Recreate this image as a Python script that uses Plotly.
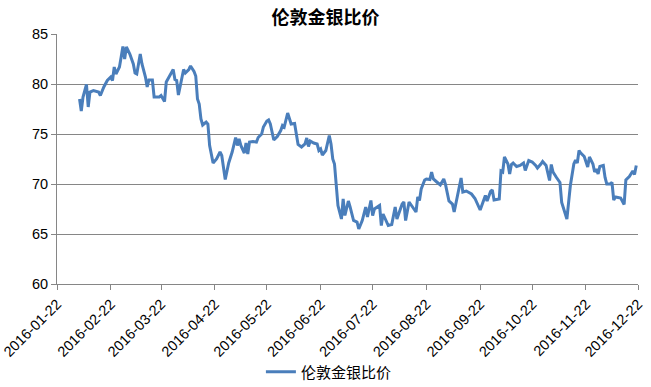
import plotly.graph_objects as go

series_name = "伦敦金银比价"

dates = [
    "2016-02-04", "2016-02-05", "2016-02-06", "2016-02-07", "2016-02-08", "2016-02-09", "2016-02-10",
    "2016-02-12", "2016-02-13", "2016-02-15", "2016-02-16", "2016-02-18", "2016-02-20", "2016-02-22",
    "2016-02-23", "2016-02-24", "2016-02-25", "2016-02-27", "2016-02-28", "2016-02-29", "2016-03-01",
    "2016-03-02", "2016-03-04", "2016-03-06", "2016-03-07", "2016-03-08", "2016-03-10", "2016-03-11",
    "2016-03-13", "2016-03-14", "2016-03-15", "2016-03-17", "2016-03-18", "2016-03-21", "2016-03-22",
    "2016-03-24", "2016-03-25", "2016-03-28", "2016-03-29", "2016-03-30", "2016-03-31", "2016-04-01",
    "2016-04-03", "2016-04-04", "2016-04-05", "2016-04-07", "2016-04-08", "2016-04-10", "2016-04-11",
    "2016-04-12", "2016-04-13", "2016-04-14", "2016-04-15", "2016-04-17", "2016-04-18", "2016-04-19",
    "2016-04-21", "2016-04-23", "2016-04-25", "2016-04-26", "2016-04-28", "2016-04-30", "2016-05-02",
    "2016-05-03", "2016-05-04", "2016-05-05", "2016-05-06", "2016-05-07", "2016-05-09", "2016-05-10",
    "2016-05-11", "2016-05-12", "2016-05-14", "2016-05-16", "2016-05-17", "2016-05-19", "2016-05-20",
    "2016-05-22", "2016-05-23", "2016-05-24", "2016-05-26", "2016-05-28", "2016-05-30", "2016-05-31",
    "2016-06-01", "2016-06-03", "2016-06-04", "2016-06-05", "2016-06-07", "2016-06-08", "2016-06-09",
    "2016-06-11", "2016-06-13", "2016-06-14", "2016-06-15", "2016-06-16", "2016-06-18", "2016-06-20",
    "2016-06-21", "2016-06-22", "2016-06-23", "2016-06-25", "2016-06-27", "2016-06-28", "2016-06-29",
    "2016-06-30", "2016-07-01", "2016-07-02", "2016-07-04", "2016-07-05", "2016-07-06", "2016-07-08",
    "2016-07-09", "2016-07-11", "2016-07-13", "2016-07-14", "2016-07-16", "2016-07-18", "2016-07-19",
    "2016-07-21", "2016-07-22", "2016-07-23", "2016-07-26", "2016-07-27", "2016-07-28", "2016-07-31",
    "2016-08-02", "2016-08-04", "2016-08-05", "2016-08-08", "2016-08-09", "2016-08-10", "2016-08-12",
    "2016-08-15", "2016-08-16", "2016-08-17", "2016-08-18", "2016-08-19", "2016-08-21", "2016-08-22",
    "2016-08-24", "2016-08-25", "2016-08-26", "2016-08-28", "2016-08-30", "2016-09-01", "2016-09-02",
    "2016-09-04", "2016-09-06", "2016-09-07", "2016-09-09", "2016-09-11", "2016-09-12", "2016-09-14",
    "2016-09-17", "2016-09-19", "2016-09-22", "2016-09-24", "2016-09-25", "2016-09-26", "2016-09-28",
    "2016-09-29", "2016-09-30", "2016-10-03", "2016-10-04", "2016-10-05", "2016-10-06", "2016-10-08",
    "2016-10-09", "2016-10-10", "2016-10-11", "2016-10-13", "2016-10-15", "2016-10-17", "2016-10-18",
    "2016-10-20", "2016-10-22", "2016-10-24", "2016-10-25", "2016-10-27", "2016-10-28", "2016-10-30",
    "2016-10-31", "2016-11-01", "2016-11-02", "2016-11-03", "2016-11-05", "2016-11-07", "2016-11-08",
    "2016-11-10", "2016-11-11", "2016-11-13", "2016-11-15", "2016-11-16", "2016-11-17", "2016-11-18",
    "2016-11-19", "2016-11-21", "2016-11-23", "2016-11-24", "2016-11-26", "2016-11-27", "2016-11-28",
    "2016-11-29", "2016-11-30", "2016-12-02", "2016-12-03", "2016-12-04", "2016-12-06", "2016-12-07",
    "2016-12-08", "2016-12-09", "2016-12-12", "2016-12-14", "2016-12-15", "2016-12-17", "2016-12-19",
    "2016-12-20", "2016-12-21",
]

ratio = [
    78.5, 77.3, 78.7, 79.4, 79.95, 77.7, 79.2,
    79.35, 79.3, 79.2, 78.85, 79.7, 80.35, 80.7,
    80.35, 81.7, 81.0, 81.7, 82.7, 83.75, 82.5,
    83.7, 83.0, 82.0, 81.1, 81.0, 83.0, 82.0,
    80.7, 79.7, 80.4, 80.4, 78.7, 78.7, 78.85,
    78.25, 80.2, 81.2, 81.45, 80.45, 80.35, 78.9,
    80.5, 81.45, 81.1, 81.45, 81.8, 81.25, 80.8,
    78.5, 78.0, 76.5, 75.9, 76.2, 76.0, 73.85,
    72.1, 72.5, 73.2, 72.85, 70.45, 72.1, 73.2,
    74.1, 74.65, 73.85, 74.5, 73.85, 73.1, 74.1,
    73.0, 74.2, 74.25, 74.2, 74.65, 75.0, 75.7,
    76.3, 76.4, 76.0, 74.4, 74.75, 75.35, 75.85,
    75.7, 77.1, 76.5, 76.0, 76.05, 75.0, 73.95,
    73.7, 74.0, 74.6, 73.75, 74.3, 74.1, 74.0,
    73.35, 73.5, 72.9, 73.35, 74.85, 74.0, 72.5,
    72.0, 69.7, 67.85, 66.5, 68.5, 66.85, 68.3,
    67.7, 66.35, 66.2, 65.5, 66.35, 67.7, 66.7,
    68.35, 66.85, 67.5, 67.85, 65.85, 67.0, 65.85,
    65.95, 67.7, 66.5, 68.0, 68.2, 66.35, 68.2,
    67.35, 67.2, 68.7, 68.35, 69.5, 70.4, 70.5,
    70.45, 71.2, 70.5, 70.2, 69.9, 70.5, 69.95,
    68.3, 68.0, 67.2, 69.0, 70.6, 69.2, 69.3,
    69.0, 68.55, 67.4, 68.3, 68.85, 68.3, 69.25,
    69.4, 68.4, 68.5, 71.3, 71.2, 72.7, 72.0,
    71.0, 71.95, 72.1, 71.75, 71.85, 72.1, 71.35,
    72.35, 72.2, 71.85, 71.6, 72.0, 72.25, 71.85,
    71.2, 70.35, 71.95, 71.2, 70.65, 70.15, 68.15,
    67.15, 66.5, 69.85, 72.0, 72.4, 72.1, 73.35,
    73.1, 72.75, 71.7, 72.7, 72.0, 71.2, 71.5,
    71.0, 71.75, 71.85, 70.65, 70.0, 70.0, 70.15,
    68.4, 68.7, 68.6, 67.95, 70.4, 70.75, 71.3,
    70.95, 71.85,
]

tick_dates = [
    "2016-01-22", "2016-02-22", "2016-03-22", "2016-04-22", "2016-05-22", "2016-06-22",
    "2016-07-22", "2016-08-22", "2016-09-22", "2016-10-22", "2016-11-22", "2016-12-22",
]

y_ticks = [60, 65, 70, 75, 80, 85]

fig = go.Figure(
    go.Scatter(
        x=dates,
        y=ratio,
        mode="lines",
        name=series_name,
        line=dict(color="#4A7EBB", width=3),
    )
)

fig.update_layout(
    width=651,
    height=387,
    autosize=False,
    margin=dict(l=57, r=13, t=34, b=103, autoexpand=False),
    paper_bgcolor="white",
    plot_bgcolor="white",
    font=dict(family="Liberation Sans, Arial, sans-serif", size=14.5, color="black"),
    title=dict(
        text="<b>" + series_name + "</b>",
        x=0.5,
        xanchor="center",
        xref="container",
        y=1 - 18 / 387,
        yanchor="middle",
        yref="container",
        font=dict(family="Noto Sans CJK SC", size=18, color="black"),
    ),
    showlegend=True,
    legend=dict(
        orientation="h",
        x=0.468,
        xanchor="center",
        y=1 - 372 / 387,
        yanchor="middle",
        yref="container",
        font=dict(family="Noto Sans CJK SC", size=15, color="black"),
        bgcolor="rgba(0,0,0,0)",
    ),
)

fig.update_xaxes(
    type="date",
    range=[tick_dates[0], tick_dates[-1]],
    tickvals=tick_dates,
    ticktext=tick_dates,
    tickangle=-45,
    ticks="outside",
    ticklen=5,
    tickcolor="#868686",
    showline=True,
    linecolor="#868686",
    linewidth=1,
    showgrid=False,
    zeroline=False,
    automargin=False,
    ticklabeloverflow="allow",
)

fig.update_yaxes(
    range=[60, 85],
    tickvals=y_ticks,
    ticks="outside",
    ticklen=5,
    tickcolor="#868686",
    showline=True,
    linecolor="#868686",
    linewidth=1,
    showgrid=True,
    gridcolor="#868686",
    gridwidth=1,
    zeroline=False,
    automargin=False,
)

fig.write_html(
    "out.html",
    config={"displayModeBar": False},
    post_script="document.body.style.margin='0';document.body.style.overflow='hidden';",
)
